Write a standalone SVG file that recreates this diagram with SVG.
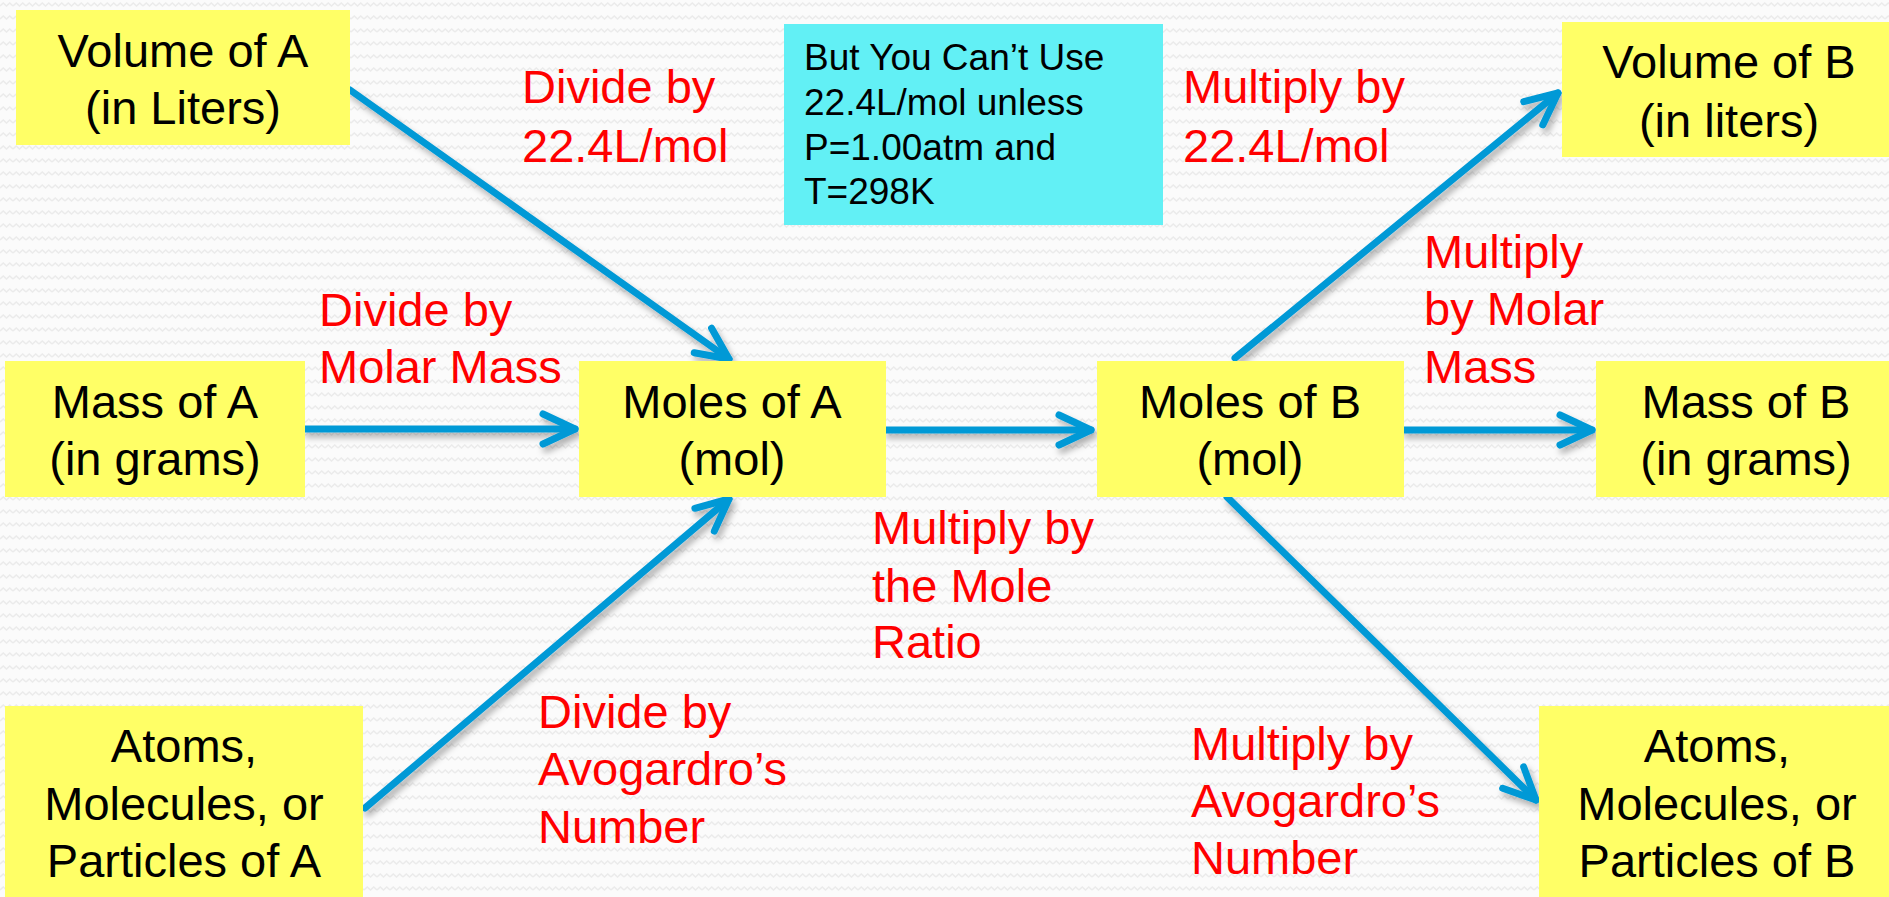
<svg xmlns="http://www.w3.org/2000/svg" width="1889" height="897" viewBox="0 0 1889 897">
<style>
.box{fill:#FFFF66}
.note{fill:#62F0F5}
.bt{font-family:"Liberation Sans",Arial,sans-serif;font-size:47px;fill:#000;text-anchor:middle}
.nt{font-family:"Liberation Sans",Arial,sans-serif;font-size:37px;fill:#000}
.rt{font-family:"Liberation Sans",Arial,sans-serif;font-size:47px;fill:#FF0000}
.ar{fill:none;stroke:#0099D6;stroke-width:7;stroke-linecap:round;marker-end:url(#ah)}
</style>
<defs>
<pattern id="bg" width="13" height="13" patternUnits="userSpaceOnUse">
<rect width="13" height="13" fill="#fbfbfb"/>
<path d="M0 6 L3.25 3 L6.5 6 L9.75 3 L13 6" fill="none" stroke="#ebebeb" stroke-width="1.5"/>
</pattern>
<marker id="ah" markerUnits="userSpaceOnUse" viewBox="-40 -20 46 40" refX="0" refY="0" markerWidth="46" markerHeight="40" orient="auto">
<path d="M-32 -15 L0 0 L-32 15" fill="none" stroke="#0099D6" stroke-width="7" stroke-linecap="round" stroke-linejoin="round"/>
</marker>
<filter id="sh" x="-10%" y="-10%" width="130%" height="130%">
<feDropShadow dx="3" dy="5" stdDeviation="3" flood-color="#000" flood-opacity="0.3"/>
</filter>
</defs>
<rect width="1889" height="897" fill="url(#bg)"/>

<g id="connectors" filter="url(#sh)">
<line class="ar" x1="350" y1="90" x2="729" y2="359"/>
<line class="ar" x1="305" y1="429" x2="575" y2="429"/>
<line class="ar" x1="365" y1="808" x2="729" y2="499"/>
<line class="ar" x1="886" y1="430" x2="1091" y2="430"/>
<line class="ar" x1="1235" y1="358" x2="1558" y2="93"/>
<line class="ar" x1="1404" y1="430" x2="1592" y2="430"/>
<line class="ar" x1="1227" y1="497" x2="1536" y2="800"/>
</g>

<g id="volA"><rect class="box" x="16" y="10" width="334" height="135"/>
<text class="bt" x="183" y="67">Volume of A</text><text class="bt" x="183" y="124">(in Liters)</text></g>
<g id="massA"><rect class="box" x="5" y="361" width="300" height="136"/>
<text class="bt" x="155" y="418">Mass of A</text><text class="bt" x="155" y="475">(in grams)</text></g>
<g id="atomsA"><rect class="box" x="5" y="706" width="358" height="191"/>
<text class="bt" x="184" y="762">Atoms,</text><text class="bt" x="184" y="820">Molecules, or</text><text class="bt" x="184" y="877">Particles of A</text></g>
<g id="molesA"><rect class="box" x="579" y="361" width="307" height="136"/>
<text class="bt" x="732" y="418">Moles of A</text><text class="bt" x="732" y="475">(mol)</text></g>
<g id="molesB"><rect class="box" x="1097" y="361" width="307" height="136"/>
<text class="bt" x="1250" y="418">Moles of B</text><text class="bt" x="1250" y="475">(mol)</text></g>
<g id="volB"><rect class="box" x="1562" y="22" width="327" height="135"/>
<text class="bt" x="1729" y="78">Volume of B</text><text class="bt" x="1729" y="137">(in liters)</text></g>
<g id="massB"><rect class="box" x="1596" y="361" width="293" height="136"/>
<text class="bt" x="1746" y="418">Mass of B</text><text class="bt" x="1746" y="475">(in grams)</text></g>
<g id="atomsB"><rect class="box" x="1539" y="706" width="350" height="191"/>
<text class="bt" x="1717" y="762">Atoms,</text><text class="bt" x="1717" y="820">Molecules, or</text><text class="bt" x="1717" y="877">Particles of B</text></g>

<g id="note"><rect class="note" x="784" y="24" width="379" height="201"/>
<text class="nt" x="804" y="70">But You Can’t Use</text>
<text class="nt" x="804" y="115">22.4L/mol unless</text>
<text class="nt" x="804" y="160">P=1.00atm and</text>
<text class="nt" x="804" y="204">T=298K</text></g>

<g id="labels">
<text class="rt" x="522" y="103">Divide by</text><text class="rt" x="522" y="162">22.4L/mol</text>
<text class="rt" x="319" y="326">Divide by</text><text class="rt" x="319" y="383">Molar Mass</text>
<text class="rt" x="1183" y="103">Multiply by</text><text class="rt" x="1183" y="162">22.4L/mol</text>
<text class="rt" x="1424" y="268">Multiply</text><text class="rt" x="1424" y="325">by Molar</text><text class="rt" x="1424" y="383">Mass</text>
<text class="rt" x="872" y="544">Multiply by</text><text class="rt" x="872" y="602">the Mole</text><text class="rt" x="872" y="658">Ratio</text>
<text class="rt" x="538" y="728">Divide by</text><text class="rt" x="538" y="785">Avogardro’s</text><text class="rt" x="538" y="843">Number</text>
<text class="rt" x="1191" y="760">Multiply by</text><text class="rt" x="1191" y="817">Avogardro’s</text><text class="rt" x="1191" y="874">Number</text>
</g>
</svg>
